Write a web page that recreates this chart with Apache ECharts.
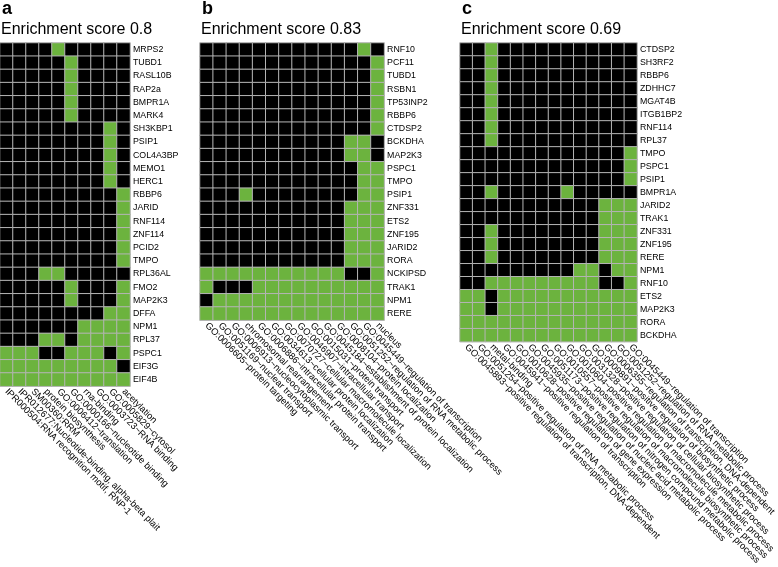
<!DOCTYPE html>
<html>
<head>
<meta charset="utf-8">
<script src="https://cdn.jsdelivr.net/npm/echarts@6/dist/echarts.min.js"></script>
<style>
  html, body { margin: 0; padding: 0; background: #fff; }
  #chart { width: 778px; height: 567px; }
</style>
</head>
<body>
<div id="chart"></div>
<script>
// panel a
const aCols = [
  'IPR000504:RNA recognition motif, RNP-1',
  'IPR012677:Nucleotide-binding, alpha-beta plait',
  'SM00360:RRM',
  'protein biosynthesis',
  'GO:0006412~translation',
  'GO:0000166~nucleotide binding',
  'rna-binding',
  'GO:0003723~RNA binding',
  'GO:0005829~cytosol',
  'acetylation'
]
const aRows = ['MRPS2', 'TUBD1', 'RASL10B', 'RAP2a', 'BMPR1A', 'MARK4', 'SH3KBP1', 'PSIP1', 'COL4A3BP',
  'MEMO1', 'HERC1', 'RBBP6', 'JARID', 'RNF114', 'ZNF114', 'PCID2', 'TMPO', 'RPL36AL', 'FMO2',
  'MAP2K3', 'DFFA', 'NPM1', 'RPL37', 'PSPC1', 'EIF3G', 'EIF4B']
const aCells = [
  '0000100000', '0000010000', '0000010000', '0000010000', '0000010000', '0000010000',
  '0000000010', '0000000010', '0000000010', '0000000010', '0000000010',
  '0000000001', '0000000001', '0000000001', '0000000001', '0000000001', '0000000001',
  '0001100000', '0000010001', '0000010001', '0000000011', '0000001111', '0001101111',
  '1110011101', '1111111110', '1111111111'
]

// panel b
const bCols = [
  'GO:0006605~protein targeting',
  'GO:0051169~nuclear transport',
  'GO:0006913~nucleocytoplasmic transport',
  'chromosomal rearrangement',
  'GO:0006886~intracellular protein transport',
  'GO:0034613~cellular protein localization',
  'GO:0070727~cellular macromolecule localization',
  'GO:0046907~intracellular transport',
  'GO:0015031~protein transport',
  'GO:0045184~establishment of protein localization',
  'GO:0008104~protein localization',
  'GO:0051252~regulation of RNA metabolic process',
  'GO:0045449~regulation of transcription',
  'nucleus'
]
const bRows = ['RNF10', 'PCF11', 'TUBD1', 'RSBN1', 'TP53INP2', 'RBBP6', 'CTDSP2', 'BCKDHA', 'MAP2K3',
  'PSPC1', 'TMPO', 'PSIP1', 'ZNF331', 'ETS2', 'ZNF195', 'JARID2', 'RORA', 'NCKIPSD', 'TRAK1',
  'NPM1', 'RERE']
const bCells = [
  '00000000000010', '00000000000001', '00000000000001', '00000000000001', '00000000000001',
  '00000000000001', '00000000000001', '00000000000110', '00000000000110', '00000000000011',
  '00000000000011', '00010000000011', '00000000000111', '00000000000111', '00000000000111',
  '00000000000111', '00000000000111', '11111111111001', '10001111111111', '01111111111111',
  '11111111111111'
]

// panel c
const cCols = [
  'GO:0045893~positive regulation of transcription, DNA-dependent',
  'GO:0051254~positive regulation of RNA metabolic process',
  'metal-binding',
  'GO:0045941~positive regulation of transcription',
  'GO:0010628~positive regulation of gene expression',
  'GO:0045935~positive regulation of nucleic acid metabolic process',
  'GO:0051173~positive regulation of nitrogen compound metabolic process',
  'GO:0010557~positive regulation of macromolecule biosynthetic process',
  'GO:0010604~positive regulation of macromolecule metabolic process',
  'GO:0031328~positive regulation of cellular biosynthetic process',
  'GO:0009891~positive regulation of biosynthetic process',
  'GO:0006355~regulation of transcription, DNA-dependent',
  'GO:0051252~regulation of RNA metabolic process',
  'GO:0045449~regulation of transcription'
]
const cRows = ['CTDSP2', 'SH3RF2', 'RBBP6', 'ZDHHC7', 'MGAT4B', 'ITGB1BP2', 'RNF114', 'RPL37', 'TMPO',
  'PSPC1', 'PSIP1', 'BMPR1A', 'JARID2', 'TRAK1', 'ZNF331', 'ZNF195', 'RERE', 'NPM1', 'RNF10',
  'ETS2', 'MAP2K3', 'RORA', 'BCKDHA']
const cCells = [
  '00100000000000', '00100000000000', '00100000000000', '00100000000000', '00100000000000',
  '00100000000000', '00100000000000', '00100000000000', '00000000000001', '00000000000001',
  '00000000000001', '00100000100000', '00000000000111', '00000000000111', '00100000000111',
  '00100000000111', '00100000000111', '00000000011011', '00111111111001', '11011111111111',
  '11011111111111', '11111111111111', '11111111111111'
]

const panels = [
  { tag: 'a', score: 'Enrichment score 0.8', cols: aCols, rows: aRows, cells: aCells },
  { tag: 'b', score: 'Enrichment score 0.83', cols: bCols, rows: bRows, cells: bCells },
  { tag: 'c', score: 'Enrichment score 0.69', cols: cCols, rows: cRows, cells: cCells }
]

const FONT = "'Liberation Sans', Arial, Helvetica, sans-serif"
const ROW_H = 13.2
const lefts = [0, 200, 460]
const colW = [13, 13.15, 13.15]

// 0/1 字符串 -> 热力图数据
const toData = (cells) => {
  const out = []
  cells.forEach((row, y) => {
    row.split('').forEach((v, x) => out.push([x, y, Number(v)]))
  })
  return out
}

const option = {
  backgroundColor: '#fff',
  animation: false,
  title: [],
  grid: [],
  xAxis: [],
  yAxis: [],
  visualMap: {
    type: 'piecewise',
    show: false,
    dimension: 2,
    pieces: [
      { value: 0, color: '#000000' },
      { value: 1, color: '#6cb33e' }
    ]
  },
  series: []
}

panels.forEach((p, i) => {
  const left = lefts[i]
  option.title.push({
    text: p.tag, left: left + 2, top: 0, padding: 0,
    textStyle: { fontFamily: FONT, fontSize: 18, fontWeight: 'bold', color: '#000' }
  })
  option.title.push({
    text: p.score, left: left + 1, top: 22, padding: 0,
    textStyle: { fontFamily: FONT, fontSize: 16, fontWeight: 'normal', color: '#000' }
  })
  option.grid.push({
    left: left, top: 43,
    width: p.cols.length * colW[i],
    height: p.rows.length * ROW_H
  })
  option.xAxis.push({
    type: 'category', gridIndex: i, data: p.cols, position: 'bottom',
    axisLine: { show: false }, axisTick: { show: false }, splitLine: { show: false },
    axisLabel: { interval: 0, rotate: -45, margin: 4, fontSize: 9.4, fontFamily: FONT, color: '#000' }
  })
  option.yAxis.push({
    type: 'category', gridIndex: i, data: p.rows, position: 'right', inverse: true,
    axisLine: { show: false }, axisTick: { show: false }, splitLine: { show: false },
    axisLabel: { interval: 0, margin: 3, fontSize: 8.8, fontFamily: FONT, color: '#000' }
  })
  option.series.push({
    type: 'heatmap', xAxisIndex: i, yAxisIndex: i,
    data: toData(p.cells),
    itemStyle: { borderColor: '#b4b4b4', borderWidth: 1 },
    emphasis: { disabled: true }
  })
})

const chart = echarts.init(document.getElementById('chart'))
chart.setOption(option)
</script>
</body>
</html>
